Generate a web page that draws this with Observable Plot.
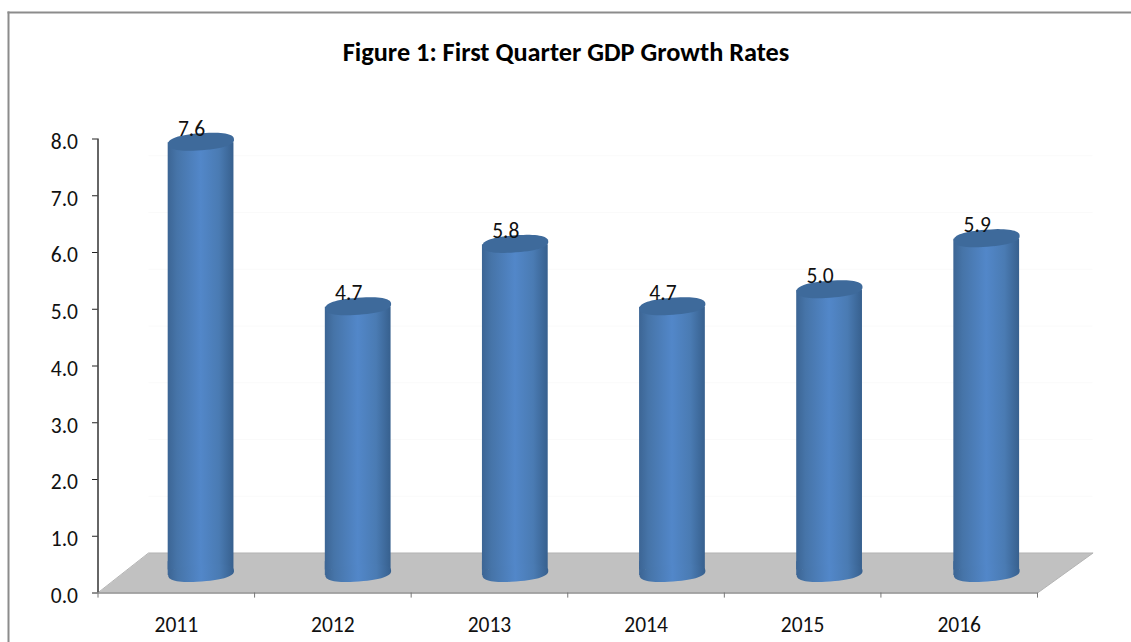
<!DOCTYPE html>
<html>
<head>
<meta charset="utf-8">
<script src="https://cdn.jsdelivr.net/npm/d3@7"></script>
<script src="https://cdn.jsdelivr.net/npm/@observablehq/plot@0.6"></script>
<style>
  html, body { margin: 0; padding: 0; background: #fff; }
</style>
</head>
<body>
<div id="chart"></div>
<script>
const years = ["2011", "2012", "2013", "2014", "2015", "2016"];
const growth = [7.6, 4.7, 5.8, 4.7, 5.0, 5.9];
const yTicks = [0, 1, 2, 3, 4, 5, 6, 7, 8];
const wallLines = [1, 2, 3, 4, 5, 6, 7];

const rows = years.map((year, i) => ({ year, i, value: growth[i] }));

// Outline of the chart's floor, in axis units
const floorX = [0, 6, 6.355, 0.325];
const floorY = [0, 0, 0.705, 0.705];
const floor = floorX.map((x, i) => ({ x, y: floorY[i] }));

const font = "Carlito, Lato, 'Open Sans', sans-serif";

// Rounded, slightly tilted oval used for the cylinder caps
const cap = {
  draw(context) {
    const rx = 33, ry = 8.5, tilt = -4.3 * Math.PI / 180, power = 2 / 2.4;
    const n = 64;
    for (let k = 0; k < n; ++k) {
      const a = (k / n) * 2 * Math.PI;
      const c = Math.cos(a), s = Math.sin(a);
      const ex = rx * Math.sign(c) * Math.pow(Math.abs(c), power);
      const ey = ry * Math.sign(s) * Math.pow(Math.abs(s), power);
      const px = ex * Math.cos(tilt) - ey * Math.sin(tilt);
      const py = ex * Math.sin(tilt) + ey * Math.cos(tilt);
      if (k === 0) context.moveTo(px, py);
      else context.lineTo(px, py);
    }
    context.closePath();
  }
};

// Cylinders stand nearer the viewer than the axis, so they sit shifted and
// spread a touch wider than their tick bands
const depth = { dx: 24.5, dy: -20 };
const cylinderX = (i) => (i + 0.5) * 1.0035;

const gradientDefs = () => {
  const svgNS = "http://www.w3.org/2000/svg";
  const defs = document.createElementNS(svgNS, "defs");
  const gradient = document.createElementNS(svgNS, "linearGradient");
  gradient.setAttribute("id", "cylinder");
  [[0, "#3c6594"], [0.14, "#4674a8"], [0.5, "#5287c9"], [0.78, "#4a7bb3"], [1, "#37608e"]]
    .forEach(([offset, color]) => {
      const stop = document.createElementNS(svgNS, "stop");
      stop.setAttribute("offset", offset);
      stop.setAttribute("stop-color", color);
      gradient.appendChild(stop);
    });
  defs.appendChild(gradient);
  return defs;
};

const chart = Plot.plot({
  width: 1131,
  height: 642,
  marginLeft: 0,
  marginRight: 0,
  marginTop: 0,
  marginBottom: 0,
  style: { fontFamily: font, background: "#fff" },
  x: { domain: [0, 6], range: [97.5, 1037] },
  y: { domain: [0, 8], range: [592.5, 138.5] },
  marks: [
    gradientDefs,
    // Chart border: only the top and left edges fall inside the page
    Plot.frame({ anchor: "top", insetTop: 12, insetLeft: 8, stroke: "#8c8c8c", strokeWidth: 2 }),
    Plot.frame({ anchor: "left", insetLeft: 8, insetTop: 12, stroke: "#8c8c8c", strokeWidth: 2 }),

    // Faint wall gridlines
    Plot.ruleY(wallLines, { x1: 0.325, x2: 6.355, dy: -40, stroke: "#fafafa" }),

    // Floor
    Plot.line(floor, { x: "x", y: "y", z: null, fill: "#c1c1c1", stroke: "#b4b4b4", strokeWidth: 1, curve: "linear-closed" }),

    // Axes
    Plot.ruleX([0], { y1: 0, y2: 8, stroke: "#333", strokeWidth: 1.5 }),
    Plot.ruleY([0], { x1: 0, x2: 6, stroke: "#9a9a9a", strokeWidth: 1.5 }),
    Plot.ruleY(yTicks, { x1: -0.035, x2: 0, stroke: "#222" }),
    Plot.axisY({
      ticks: yTicks,
      anchor: "left",
      tickSize: 0,
      tickPadding: 20,
      tickFormat: d3.format(".1f"),
      x: 0,
      dy: 3,
      fontSize: 21.5,
      fill: "#111",
      label: null
    }),
    Plot.ruleX(d3.range(7), { y1: 0, y2: -0.09, stroke: "#777" }),
    Plot.axisX({
      ticks: years.map((_, i) => i + 0.5),
      anchor: "bottom",
      tickSize: 0,
      tickPadding: 0,
      y: 0,
      dy: 24,
      fontSize: 21.5,
      fill: "#111",
      tickFormat: (d) => years[d - 0.5],
      label: null
    }),

    // Cylinders: left foot that closes the tilt, body, lower cap, upper cap
    Plot.rect(rows, { x1: (d) => cylinderX(d.i) - 0.21, x2: (d) => cylinderX(d.i) - 0.17, y1: () => 0, y2: () => 0.2, insetBottom: -2.5, fill: "#3f6999", ...depth }),
    Plot.rect(rows, { x1: (d) => cylinderX(d.i) - 0.21, x2: (d) => cylinderX(d.i) + 0.21, y1: () => 0, y2: "value", insetTop: 1, insetBottom: 3, fill: "url(#cylinder)", ...depth }),
    Plot.dot(rows, { x: (d) => cylinderX(d.i), y: () => 0, symbol: cap, r: 10, fill: "url(#cylinder)", stroke: null, ...depth }),
    Plot.dot(rows, { x: (d) => cylinderX(d.i), y: "value", symbol: cap, r: 10, fill: "#3e6a9b", stroke: null, ...depth }),

    // Value labels
    Plot.text(rows, { x: (d) => cylinderX(d.i), y: "value", text: (d) => d.value.toFixed(1), dx: 15, dy: -33, fontSize: 21.5, fill: "#111" }),

    // Title
    Plot.text(["Figure 1: First Quarter GDP Growth Rates"], { frameAnchor: "top", dy: 52, lineAnchor: "middle", fontSize: 26.3, fontWeight: "bold", fill: "#000" })
  ]
});

document.getElementById("chart").appendChild(chart);
</script>
</body>
</html>
